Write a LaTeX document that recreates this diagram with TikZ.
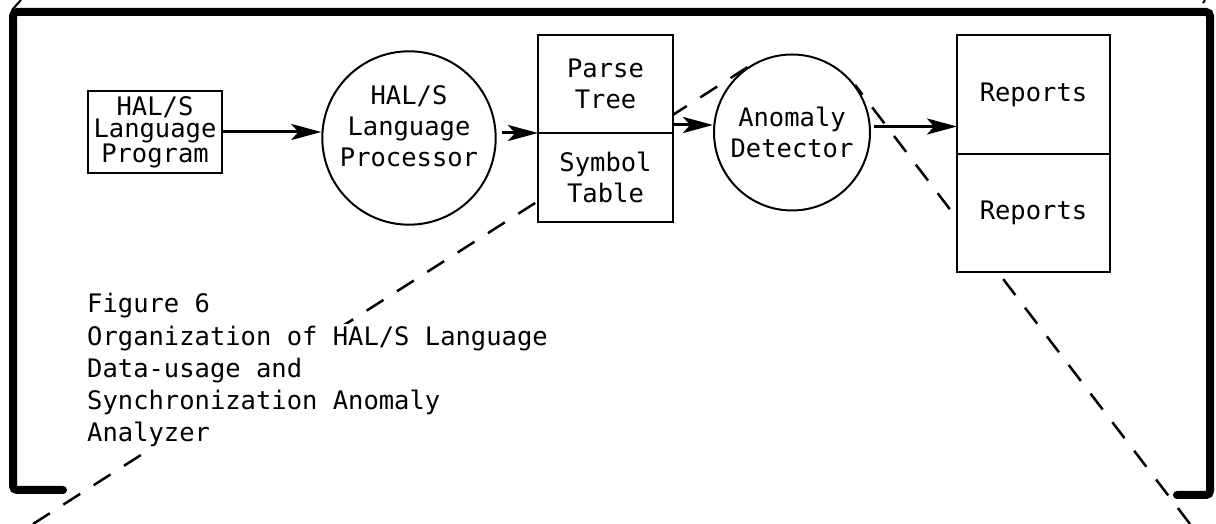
\documentclass[tikz,border=0pt]{standalone}
\usepackage{fontspec}
\newfontfamily\typefont{DejaVu Sans Mono}
\usetikzlibrary{arrows.meta, positioning, backgrounds}

\begin{document}
\begin{tikzpicture}[
  x=1pt, y=1pt,
  every node/.style={font=\typefont\fontsize{25.5}{31}\selectfont, align=center, inner sep=0pt},
  fbox/.style={draw, line width=2pt, fill=white, outer sep=0pt, minimum width=135pt},
  proc/.style={draw, circle, line width=2pt, fill=white},
  caption/.style={align=left, font=\typefont\fontsize{25.5}{32}\selectfont},
  flow/.style={line width=3pt, -{Stealth[length=30pt, width=16pt, inset=7pt]}},
  frame/.style={line width=8pt, rounded corners=4pt, line cap=round},
  cone/.style={line width=2.5pt, dash pattern=on 20pt off 16pt}
]
  \useasboundingbox (0,0) rectangle (1216,524);

  % outer bracket
  \draw[frame] (63,34) -- (13,34) -- (13,512) -- (1210,512) -- (1210,29) -- (1177,29);

  \node[fbox, minimum width=134pt, minimum height=82pt, font=\typefont\fontsize{25.5}{20.5}\selectfont] (prog) at (155,392) {HAL/S\\Language\\Program};
  \node[proc, minimum size=172pt] (lp) at (409,386) {HAL/S\\Language\\Processor\\[-7pt]};
  \node[fbox, minimum height=98pt] (tree) at (605.5,440) {Parse\\Tree};
  \node[fbox, minimum height=89pt, below=0pt of tree] (symtab) {Symbol\\Table};
  \node[proc, minimum size=156pt] (ad) at (792,391.5) {Anomaly\\Detector};
  \node[fbox, minimum width=153pt, minimum height=119pt] (rep1) at (1033.5,429.5) {\raisebox{-7pt}{Reports}};
  \node[fbox, minimum width=153pt, minimum height=118pt, below=0pt of rep1] (rep2) {Reports};

  % caption, pasted over the enlargement line
  \node[caption, anchor=base west] (figno) at (87,211) {Figure 6};
  \node[caption, anchor=north west, fill=white, inner sep=2pt] (figtitle) at (85,200.4)
    {Organization of HAL/S Language\\Data-usage and\\Synchronization Anomaly\\Analyzer};

  % data flow
  \coordinate (out3) at ([yshift=8pt]tree.south east);
  \coordinate (out4) at ([yshift=6pt]ad.east);
  \draw[flow] (prog.east) -- (prog.east -| lp.west);
  \draw[flow, shorten <=5pt] (lp.east |- tree.south west) -- (tree.south west);
  \draw[flow] (out3) -- (out3 -| ad.west);
  \draw[flow, shorten <=3pt] (out4) -- (out4 -| rep1.west);

  % enlargement lines
  \coordinate (lfoot) at (33,0);
  \coordinate (rfoot) at (1190,0);
  \begin{scope}[on background layer]
    \draw[cone] (lfoot) -- (ad.122.5);
    \draw[cone] (rfoot) -- (ad.37.4);
    \draw[line width=2pt] (12,514) -- (21,524);
    \draw[line width=2pt] (1203,521) -- (1205,524);
  \end{scope}
\end{tikzpicture}
\end{document}
